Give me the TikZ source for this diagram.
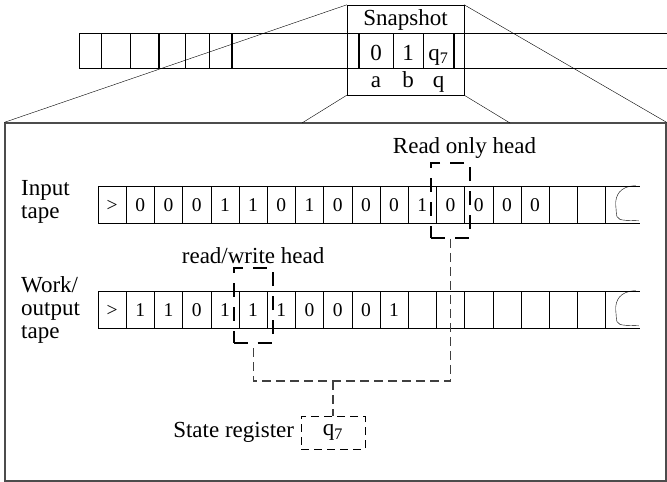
\documentclass[tikz,border=0pt]{standalone}
\usepackage{fontspec}
\setmainfont{Liberation Serif}
\usetikzlibrary{positioning, calc}

\begin{document}
\begin{tikzpicture}[x=1pt, y=-1pt, font=\fontsize{23}{23}\selectfont,
    cell/.style={draw, minimum width=28.2pt, minimum height=37pt, inner sep=0pt, font=\fontsize{19.5}{20}\selectfont, text height=13pt, text depth=0pt},
    head/.style={draw, line width=1.8pt, dash pattern=on 14pt off 10pt, minimum width=39pt, minimum height=75pt, inner sep=0pt},
    wire/.style={draw=black!75, line width=1.1pt, dash pattern=on 9pt off 5pt},
    bar/.style={line width=1.8pt}]

                        \useasboundingbox (0,0) rectangle (667,482);

                        % Bande du haut et instantané
                        \draw (667,33) -- (79,33) -- (79,68) -- (667,68);
                        \foreach \x in {101,130,185,209,393,423} \draw (\x,33) -- (\x,68);
                        \foreach \x in {159,232,359,454} \draw[bar] (\x,33) -- (\x,68);
                        \node[draw, minimum width=117pt, minimum height=90pt, inner sep=0pt] (snap) at (405.5,50) {};
                        \node[anchor=base, inner sep=0pt] (snaplabel) at (405.5,25) {Snapshot};
                        \foreach \s/\l/\x [count=\i] in {0/a/376, 1/b/408, q\textsubscript{7}/q/438.5} {
                            \node[anchor=base, inner sep=0pt] (snapsym\i) at (\x,60) {\s};
                            \node[anchor=base, inner sep=0pt] (snapvar\i) at (\x,87) {\l};
                        }

                        % Cadre de la machine
                        \node[draw=black!70, line width=1.3pt, minimum width=661pt, minimum height=358pt, inner sep=0pt] (machine) at (335.5,302) {};
                        \coordinate (zoomL) at (302,123);
                        \coordinate (zoomR) at (510,123);
                        \draw (snap.north west) -- (machine.north west);
                        \draw (snap.north east) -- (machine.north east);
                        \draw (snap.south west) -- (zoomL);
                        \draw (snap.south east) -- (zoomR);

                        % Rubans
                        \foreach \s [count=\i from 0] in {>,0,0,0,1,1,0,1,0,0,0,1,0,0,0,0,{},{}}
                            \node[cell] (in\i) at ({112.1+28.2*\i},204.5) {\s};
                        \foreach \s [count=\i from 0] in {>,1,1,0,1,1,1,0,0,0,1,{},{},{},{},{},{},{}}
                            \node[cell] (wk\i) at ({112.1+28.2*\i},309.5) {\s};
                        \foreach \tp in {in, wk} {
                            \draw (\tp17.north east) -- ++(34,0);
                            \draw (\tp17.south east) -- ++(34,0);
                            \draw[shift={(\tp17.north east)}] (30,0) .. controls (14,0) and (9,10) .. (10,20)
                                .. controls (11,30) and (9,34) .. (20,34.5) -- (33,35);
                        }
                        \node[anchor=west, align=left, inner sep=0pt] (inlabel) at (21,202) {Input\\tape};
                        \node[anchor=west, align=left, inner sep=0pt] (wklabel) at (21,310) {Work/\\output\\tape};

                        % Têtes de lecture
                        \node[head, yshift=4pt] (rohead) at (in12) {};
                        \node[head, yshift=4pt] (rwhead) at (wk5) {};
                        \node[above=0pt of rohead, xshift=14pt] (rolabel) {Read only head};
                        \node[above=0pt of rwhead] (rwlabel) {read/write head};

                        % Registre d'état
                        \node[draw, dash pattern=on 8pt off 5pt, line width=0.9pt, minimum width=64pt, minimum height=33pt] (sreg) at (333,432.5) {q\textsubscript{7}};
                        \node[left=3pt of sreg] (sreglabel) {State register};
                        \coordinate (bus) at (333,381);
                        \draw[wire] (rohead.south) |- (rwhead.south |- bus) -- (rwhead.south);
                        \draw[wire] (bus) -- (sreg.north);

                    \end{tikzpicture}
\end{document}
